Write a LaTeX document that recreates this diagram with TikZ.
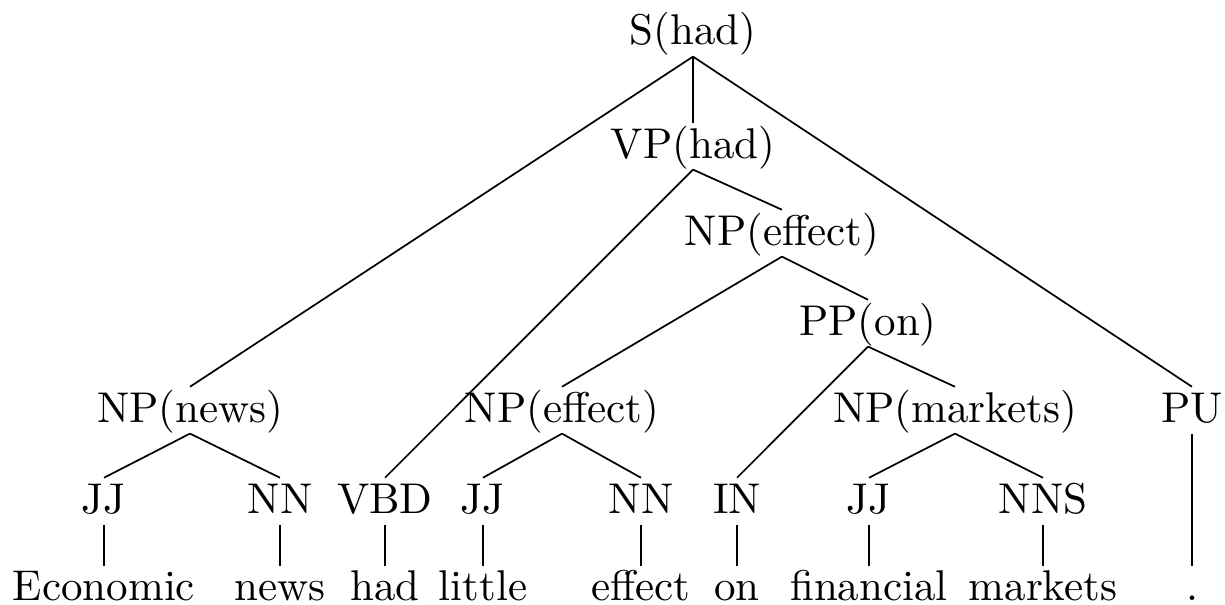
\documentclass[tikz,border=0pt]{standalone}
\usepackage{amsmath, amssymb}
\usepackage{tikz}
\usetikzlibrary{positioning}

\begin{document}
\begin{tikzpicture}[x=0.2326pt, y=-0.2326pt,
    every node/.style={inner sep=0pt, anchor=base, text height=8pt, text depth=2.5pt}]
  \useasboundingbox (0,0) rectangle (1225,605);
  % phrase nodes
  \node (s)    at (693,45)  {S(had)};
  \node (vp)   at (693,158) {VP(had)};
  \node (npe)  at (782,245) {NP(effect)};
  \node (pp)   at (868,335) {PP(on)};
  \node (npn)  at (190,422) {NP(news)};
  \node (npl)  at (562,422) {NP(effect)};
  \node (npm)  at (955,422) {NP(markets)};
  \node (pu)   at (1192,422) {PU};
  % tags
  \node (jj1)  at (104,513)  {JJ};
  \node (nn1)  at (280,513)  {NN};
  \node (vbd)  at (385,513)  {VBD};
  \node (jj2)  at (483,513)  {JJ};
  \node (nn2)  at (641,513)  {NN};
  \node (in)   at (737,513)  {IN};
  \node (jj3)  at (869,513)  {JJ};
  \node (nns)  at (1043,513) {NNS};
  % words
  \node (w1) at (104,601)  {Economic};
  \node (w2) at (280,601)  {news};
  \node (w3) at (385,601)  {had};
  \node (w4) at (483,601)  {little};
  \node (w5) at (641,601)  {effect};
  \node (w6) at (737,601)  {on};
  \node (w7) at (869,601)  {financial};
  \node (w8) at (1043,601) {markets};
  \node (w9) at (1192,601) {.};
  % edges
  \draw (s.south) -- (npn.north);
  \draw (s.south) -- (vp.north);
  \draw (s.south) -- (pu.north);
  \draw (vp.south) -- (vbd.north);
  \draw (vp.south) -- (npe.north);
  \draw (npe.south) -- (npl.north);
  \draw (npe.south) -- (pp.north);
  \draw (pp.south) -- (in.north);
  \draw (pp.south) -- (npm.north);
  \draw (npn.south) -- (jj1.north);
  \draw (npn.south) -- (nn1.north);
  \draw (npl.south) -- (jj2.north);
  \draw (npl.south) -- (nn2.north);
  \draw (npm.south) -- (jj3.north);
  \draw (npm.south) -- (nns.north);
  \draw (jj1.south) -- (w1.north);
  \draw (nn1.south) -- (w2.north);
  \draw (vbd.south) -- (w3.north);
  \draw (jj2.south) -- (w4.north);
  \draw (nn2.south) -- (w5.north);
  \draw (in.south) -- (w6.north);
  \draw (jj3.south) -- (w7.north);
  \draw (nns.south) -- (w8.north);
  \draw (pu.south) -- (w9.north);
\end{tikzpicture}
\end{document}
